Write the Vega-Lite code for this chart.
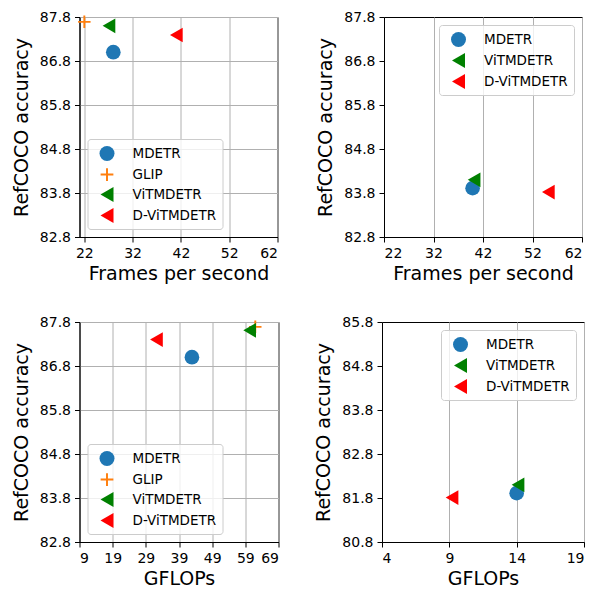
{
  "$schema": "https://vega.github.io/schema/vega-lite/v6.json",
  "padding": {"left": 11.5, "top": 9, "right": 0, "bottom": 0},
  "spacing": 30,
  "config": {
    "font": "DejaVu Sans",
    "view": {"stroke": "black", "strokeWidth": 1},
    "axis": {
      "domainColor": "black", "domainWidth": 1,
      "tickColor": "black", "tickSize": 5, "tickWidth": 1,
      "labelFontSize": 14, "labelColor": "black", "labelPadding": 4,
      "titleFontSize": 19, "titleFontWeight": "normal", "titleColor": "black",
      "gridColor": "#b0b0b0", "gridWidth": 1, "gridOpacity": 1
    },
    "axisY": {"titlePadding": 8},
    "axisX": {"titlePadding": 4},
    "legend": {
      "fillColor": "rgba(255,255,255,0.8)", "strokeColor": "#cccccc", "cornerRadius": 3,
      "padding": 6, "labelFontSize": 13.5, "labelColor": "black", "symbolSize": 225,
      "rowPadding": 5, "symbolOffset": 5, "labelOffset": 17, "offset": 8
    }
  },
  "resolve": {"scale": {"color": "independent", "shape": "independent"}, "legend": {"color": "independent", "shape": "independent"}},
  "vconcat": [
    {
      "hconcat": [
        {
          "width": 198, "height": 220,
          "data": {"values": [
            {"model": "MDETR", "fps": 28.0, "acc": 87.0},
            {"model": "GLIP", "fps": 22.0, "acc": 87.69},
            {"model": "ViTMDETR", "fps": 27.1, "acc": 87.6},
            {"model": "D-ViTMDETR", "fps": 41.05, "acc": 87.39}
          ]},
          "mark": {"type": "point", "filled": true, "size": 215, "opacity": 1},
          "encoding": {
            "x": {"field": "fps", "type": "quantitative", "scale": {"domain": [21, 62], "nice": false, "zero": false}, "axis": {"values": [22, 32, 42, 52, 62], "title": "Frames per second", "grid": true}},
            "y": {"field": "acc", "type": "quantitative", "scale": {"domain": [82.8, 87.8], "nice": false, "zero": false}, "axis": {"values": [82.8, 83.8, 84.8, 85.8, 86.8, 87.8], "format": ".1f", "title": "RefCOCO accuracy", "grid": true}},
            "color": {"field": "model", "type": "nominal", "scale": {"domain": ["MDETR", "GLIP", "ViTMDETR", "D-ViTMDETR"], "range": ["#1f77b4", "#ff7f0e", "#008000", "#ff0000"]}, "legend": {"orient": "bottom-left", "title": null}},
            "shape": {"field": "model", "type": "nominal", "scale": {"domain": ["MDETR", "GLIP", "ViTMDETR", "D-ViTMDETR"], "range": ["circle", "M-0.85,-0.13L-0.13,-0.13L-0.13,-0.85L0.13,-0.85L0.13,-0.13L0.85,-0.13L0.85,0.13L0.13,0.13L0.13,0.85L-0.13,0.85L-0.13,0.13L-0.85,0.13Z", "triangle-left", "triangle-left"]}, "legend": {"orient": "bottom-left", "title": null}}
          }
        },
        {
          "width": 198, "height": 220,
          "data": {"values": [
            {"model": "MDETR", "fps": 39.9, "acc": 83.91},
            {"model": "ViTMDETR", "fps": 40.2, "acc": 84.1},
            {"model": "D-ViTMDETR", "fps": 55.2, "acc": 83.82}
          ]},
          "mark": {"type": "point", "filled": true, "size": 215, "opacity": 1},
          "encoding": {
            "x": {"field": "fps", "type": "quantitative", "scale": {"domain": [22, 62], "nice": false, "zero": false}, "axis": {"values": [22, 32, 42, 52, 62], "title": "Frames per second", "grid": true}},
            "y": {"field": "acc", "type": "quantitative", "scale": {"domain": [82.8, 87.8], "nice": false, "zero": false}, "axis": {"values": [82.8, 83.8, 84.8, 85.8, 86.8, 87.8], "format": ".1f", "title": "RefCOCO accuracy", "grid": false}},
            "color": {"field": "model", "type": "nominal", "scale": {"domain": ["MDETR", "ViTMDETR", "D-ViTMDETR"], "range": ["#1f77b4", "#008000", "#ff0000"]}, "legend": {"orient": "top-right", "title": null}},
            "shape": {"field": "model", "type": "nominal", "scale": {"domain": ["MDETR", "ViTMDETR", "D-ViTMDETR"], "range": ["circle", "triangle-left", "triangle-left"]}, "legend": {"orient": "top-right", "title": null}}
          }
        }
      ],
      "spacing": 37.5,
      "resolve": {"scale": {"color": "independent", "shape": "independent"}, "legend": {"color": "independent", "shape": "independent"}}
    },
    {
      "hconcat": [
        {
          "width": 199, "height": 220,
          "data": {"values": [
            {"model": "MDETR", "gflops": 42.9, "acc": 87.0},
            {"model": "GLIP", "gflops": 62.0, "acc": 87.69},
            {"model": "ViTMDETR", "gflops": 60.3, "acc": 87.61},
            {"model": "D-ViTMDETR", "gflops": 32.2, "acc": 87.4}
          ]},
          "mark": {"type": "point", "filled": true, "size": 215, "opacity": 1},
          "encoding": {
            "x": {"field": "gflops", "type": "quantitative", "scale": {"domain": [9, 69], "nice": false, "zero": false}, "axis": {"values": [9, 19, 29, 39, 49, 59, 69], "title": "GFLOPs", "grid": true}},
            "y": {"field": "acc", "type": "quantitative", "scale": {"domain": [82.8, 87.8], "nice": false, "zero": false}, "axis": {"values": [82.8, 83.8, 84.8, 85.8, 86.8, 87.8], "format": ".1f", "title": "RefCOCO accuracy", "grid": true}},
            "color": {"field": "model", "type": "nominal", "scale": {"domain": ["MDETR", "GLIP", "ViTMDETR", "D-ViTMDETR"], "range": ["#1f77b4", "#ff7f0e", "#008000", "#ff0000"]}, "legend": {"orient": "bottom-left", "title": null}},
            "shape": {"field": "model", "type": "nominal", "scale": {"domain": ["MDETR", "GLIP", "ViTMDETR", "D-ViTMDETR"], "range": ["circle", "M-0.85,-0.13L-0.13,-0.13L-0.13,-0.85L0.13,-0.85L0.13,-0.13L0.85,-0.13L0.85,0.13L0.13,0.13L0.13,0.85L-0.13,0.85L-0.13,0.13L-0.85,0.13Z", "triangle-left", "triangle-left"]}, "legend": {"orient": "bottom-left", "title": null}}
          }
        },
        {
          "width": 202, "height": 220,
          "data": {"values": [
            {"model": "MDETR", "gflops": 14.0, "acc": 81.91},
            {"model": "ViTMDETR", "gflops": 14.1, "acc": 82.1},
            {"model": "D-ViTMDETR", "gflops": 9.2, "acc": 81.81}
          ]},
          "mark": {"type": "point", "filled": true, "size": 215, "opacity": 1},
          "encoding": {
            "x": {"field": "gflops", "type": "quantitative", "scale": {"domain": [4, 19], "nice": false, "zero": false}, "axis": {"values": [4, 9, 14, 19], "title": "GFLOPs", "grid": true}},
            "y": {"field": "acc", "type": "quantitative", "scale": {"domain": [80.8, 85.8], "nice": false, "zero": false}, "axis": {"values": [80.8, 81.8, 82.8, 83.8, 84.8, 85.8], "format": ".1f", "title": "RefCOCO accuracy", "grid": false}},
            "color": {"field": "model", "type": "nominal", "scale": {"domain": ["MDETR", "ViTMDETR", "D-ViTMDETR"], "range": ["#1f77b4", "#008000", "#ff0000"]}, "legend": {"orient": "top-right", "title": null}},
            "shape": {"field": "model", "type": "nominal", "scale": {"domain": ["MDETR", "ViTMDETR", "D-ViTMDETR"], "range": ["circle", "triangle-left", "triangle-left"]}, "legend": {"orient": "top-right", "title": null}}
          }
        }
      ],
      "spacing": 34.5,
      "resolve": {"scale": {"color": "independent", "shape": "independent"}, "legend": {"color": "independent", "shape": "independent"}}
    }
  ]
}
